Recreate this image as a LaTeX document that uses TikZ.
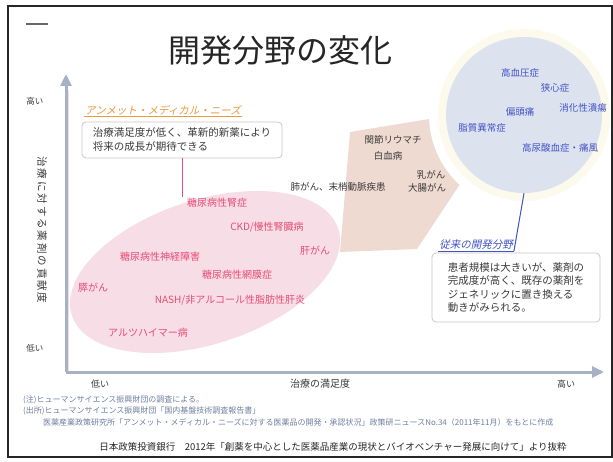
\documentclass[tikz,border=0pt]{standalone}
\usepackage{fontspec}
\setmainfont{Noto Sans CJK JP}
\newfontfamily\jpsl[FakeSlant=0.22]{Noto Sans CJK JP}
\newfontfamily\jpsp[LetterSpace=18]{Noto Sans CJK JP}
\usetikzlibrary{shapes.geometric,arrows.meta}
\definecolor{pinktxt}{HTML}{E64C78}
\definecolor{pinkfill}{HTML}{F7DDE5}
\definecolor{bluetxt}{HTML}{4252C8}
\definecolor{bluefill}{HTML}{DDE3EE}
\definecolor{darktxt}{HTML}{3A3A3A}
\definecolor{axiscol}{HTML}{A6B2C4}
\definecolor{arrowfill}{HTML}{EED6CC}
\definecolor{notecol}{HTML}{7080A0}
\definecolor{orangetxt}{HTML}{E89A3C}
\definecolor{boxline}{HTML}{C8C8C8}
\definecolor{halo}{HTML}{FCFAEC}
\tikzset{
  pinkitem/.style={text=pinktxt, font=\fontsize{10}{12}\selectfont},
  miditem/.style={text=darktxt, font=\fontsize{9.5}{11}\selectfont},
  blueitem/.style={text=bluetxt, font=\fontsize{9.5}{11}\selectfont},
  infobox/.style={draw=boxline, fill=white, rounded corners=4pt, line width=0.8pt, align=left, text=darktxt},
  axislabel/.style={text=darktxt, font=\fontsize{9}{11}\selectfont},
  noteline/.style={text=notecol, font=\fontsize{8}{10}\selectfont, anchor=west},
  axisline/.style={draw=axiscol, line width=3pt, -{Triangle[width=11pt,length=12pt]}},
}
\begin{document}
\begin{tikzpicture}[x=1pt,y=-1pt, every node/.style={inner sep=0pt}]
\useasboundingbox (0,0) rectangle (613,462);
\fill[white] (0,0) rectangle (613,462);

% title
\node[font=\fontsize{32}{36}\selectfont, text=black!85] (title) at (280,50) {開発分野の変化};
\draw[line width=1.5pt, black!60] (26,24) -- (48,24);

% big arrow pointing to the lower left; its tail runs under the halo of the blue area
\fill[arrowfill, opacity=0.9] (340,252) -- (350,132) -- (423,120) -- (490,109) -- (492,125) -- (480,154) -- (462,181) -- (417,249) -- cycle;

% blue area with its pale halo
\fill[white] (524,115) circle (95pt);
\fill[halo] (524,115) circle (86pt);
\node[circle, minimum size=156pt, fill=bluefill] (bluearea) at (524,115) {};

% pink area
\node[ellipse, minimum width=280pt, minimum height=144pt, rotate=18, fill=pinkfill] (pinkarea) at (205,272) {};

% axes
\coordinate (origin) at (66,372);
\coordinate (ytip) at (66,74);
\coordinate (xtip) at (604,372);
\draw[line width=1pt, pink!60] (68,372) -- (68,90);
\draw[axisline] (origin) -- (ytip);
\draw[axisline] (origin) -- (xtip);

\node[axislabel, font=\fontsize{8.5}{10}\selectfont] (yhigh) at (35,101) {高い};
\node[axislabel, font=\fontsize{8.5}{10}\selectfont] (ylow) at (35,348) {低い};
\node[text=darktxt, font=\jpsp\fontsize{10.5}{12}\selectfont, rotate=-90] (ylabel) at (42,230) {治療に対する薬剤の貢献度};
\node[axislabel] (xlow) at (100,384) {低い};
\node[axislabel, font=\fontsize{10}{12}\selectfont] (xlabel) at (320,384) {治療の満足度};
\node[axislabel] (xhigh) at (566,384) {高い};

% unmet needs label and box
\node[text=orangetxt, font=\jpsl\fontsize{10.5}{12}\selectfont, inner sep=1pt] (unmet) at (163,110) {アンメット・メディカル・ニーズ};
\draw[orangetxt, line width=0.6pt] (unmet.south west) -- (unmet.south east);
\node[infobox, minimum width=200pt, minimum height=36pt, font=\fontsize{10.5}{14}\selectfont] (pinkbox) at (182,140) {治療満足度が低く、革新的新薬により\\将来の成長が期待できる};
\coordinate (pinktop) at (182,197);
\draw[pinktxt, line width=1pt] (pinkbox.south) -- (pinktop);

% pink items
\node[pinkitem] (p1) at (217,203) {糖尿病性腎症};
\node[pinkitem] (p2) at (267,227) {CKD/慢性腎臓病};
\node[pinkitem] (p3) at (315,251) {肝がん};
\node[pinkitem] (p4) at (160,257) {糖尿病性神経障害};
\node[pinkitem] (p5) at (237,275) {糖尿病性網膜症};
\node[pinkitem] (p6) at (93,288) {膵がん};
\node[pinkitem] (p7) at (230,300) {NASH/非アルコール性脂肪性肝炎};
\node[pinkitem] (p8) at (148,333) {アルツハイマー病};

% middle items
\node[miditem] (m1) at (393,140) {関節リウマチ};
\node[miditem] (m2) at (388,156) {白血病};
\node[miditem] (m3) at (431,175) {乳がん};
\node[miditem] (m4) at (427,188) {大腸がん};
\node[miditem] (m5) at (338,187) {肺がん、末梢動脈疾患};

% blue items
\node[blueitem] (b1) at (520,73) {高血圧症};
\node[blueitem] (b2) at (555,88) {狭心症};
\node[blueitem] (b3) at (520,112) {偏頭痛};
\node[blueitem] (b4) at (583,108) {消化性潰瘍};
\node[blueitem] (b5) at (482,128) {脂質異常症};
\node[blueitem] (b6) at (560,148) {高尿酸血症・痛風};

% conventional label and box
\node[text=bluetxt, font=\jpsl\fontsize{10.5}{12}\selectfont, inner sep=1pt] (conv) at (476,245) {従来の開発分野};
\draw[bluetxt, line width=0.6pt] (conv.south west) -- (conv.south east);
\draw[bluetxt, line width=1pt] (conv.south east) -- (bluearea.south);
\node[infobox, minimum width=168pt, minimum height=69pt, font=\fontsize{10.5}{13.5}\selectfont] (bluebox) at (516,287.5) {患者規模は大きいが、薬剤の\\完成度が高く、既存の薬剤を\\ジェネリックに置き換える\\動きがみられる。};

% notes
\node[noteline] (n1) at (23,400) {(注)ヒューマンサイエンス振興財団の調査による。};
\node[noteline] (n2) at (23,411) {(出所)ヒューマンサイエンス振興財団「国内基盤技術調査報告書」};
\node[noteline] (n3) at (43,422) {医薬産業政策研究所「アンメット・メディカル・ニーズに対する医薬品の開発・承認状況」政策研ニュースNo.34（2011年11月）をもとに作成};

% footer
\node[text=black!85, font=\fontsize{9.5}{11}\selectfont] (footer) at (333,447) {日本政策投資銀行　2012年「創薬を中心とした医薬品産業の現状とバイオベンチャー発展に向けて」より抜粋};

% outer frame drawn last
\draw[line width=2pt, black!85] (8,6) rectangle (612,457);
\end{tikzpicture}
\end{document}
